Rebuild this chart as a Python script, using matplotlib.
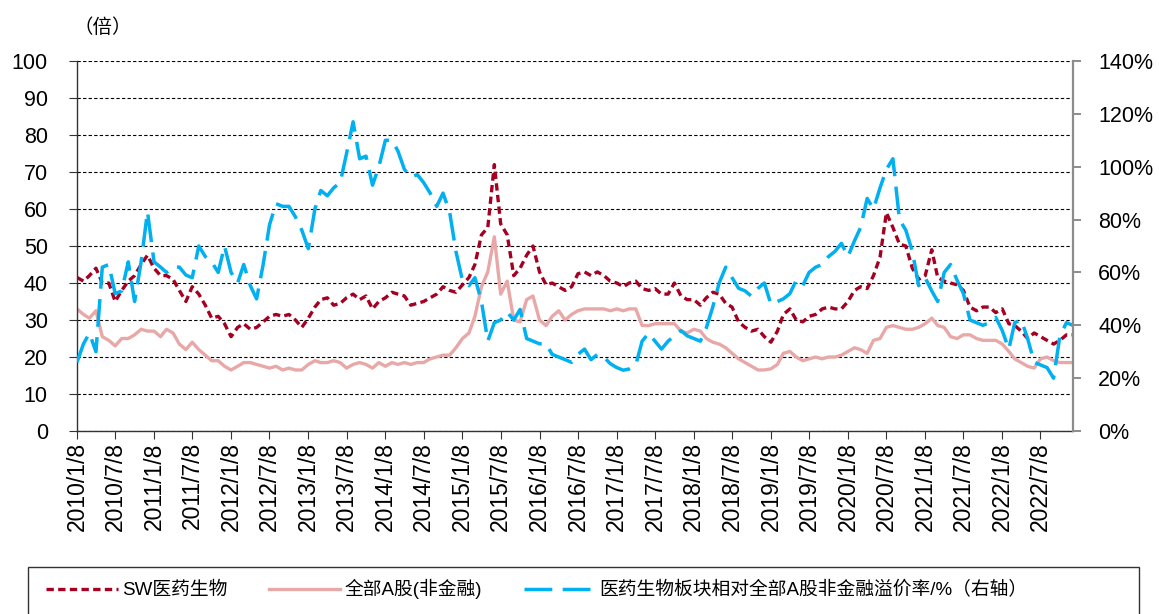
import pandas as pd
import matplotlib.pyplot as plt
import matplotlib.dates as mdates
from matplotlib.patches import Rectangle
from matplotlib.ticker import MultipleLocator, PercentFormatter, FixedLocator

plt.rcParams['font.family'] = ['Liberation Sans', 'Noto Sans CJK SC', 'DejaVu Sans']

# Monthly samples, Jan 2010 - Dec 2022 (12 values per row)
sw_pe = [
    41.5, 40.5, 42, 44, 40, 40, 35, 38, 40.5, 42, 45, 47.5,
    44, 42, 42, 41, 38, 35, 39, 37, 34, 30.5, 31, 29,
    25.5, 28, 29, 27.5, 28, 29.5, 31, 31.5, 31, 31.5, 30, 28,
    30.5, 33.5, 35.5, 36, 34, 34.5, 36, 37, 35.5, 36.5, 33, 35,
    36, 37.5, 37, 36.5, 34, 34.5, 35, 36, 37, 39, 38, 37.5,
    39.5, 41.5, 45, 53, 55, 72, 56, 53, 42, 44, 47.5, 50,
    43, 39.5, 40, 39, 38, 39, 42.5, 43, 42, 43, 42, 40.5,
    40, 39, 40, 40.5, 38.5, 38, 38.5, 37, 37, 40, 36.5, 35.5,
    35.5, 34, 36, 37.5, 37, 34.5, 33.5, 29.5, 28, 27, 27.5, 25.5,
    24, 27, 31.5, 33, 30, 29.5, 31, 31.5, 33, 33.5, 33, 33,
    35, 38, 39, 38.5, 42, 47, 59, 55, 50.5, 50, 44, 41,
    42, 49, 41.5, 40.5, 40, 39.5, 38, 33.5, 32.5, 33.5, 33.5, 32,
    33, 29, 28.5, 27, 25, 26.5, 25.5, 24.5, 23.5, 24.5, 26, 26,
]

a_share_pe = [
    33, 31.5, 30.5, 32.5, 25.5, 24.5, 23, 25, 25, 26, 27.5, 27,
    27, 25.5, 27.5, 26.5, 23.5, 22, 24, 22, 20.5, 19, 19, 17.5,
    16.5, 17.5, 18.5, 18.5, 18, 17.5, 17, 17.5, 16.5, 17, 16.5, 16.5,
    18, 19, 18.5, 18.5, 19, 18.5, 17, 18, 18.5, 18, 17, 18.5,
    17.5, 18.5, 18, 18.5, 18, 18.5, 18.5, 19.5, 20, 20.5, 20.5, 22.5,
    25, 26.5, 31, 39, 43, 52.5, 37, 40.5, 30, 29.5, 35.5, 36.5,
    30, 28.5, 31, 32.5, 30, 31.5, 32.5, 33, 33, 33, 33, 32.5,
    33, 32.5, 33, 33, 28.5, 28.5, 29, 29, 29, 29, 27, 26.5,
    27.5, 27, 25, 24, 23.5, 22.5, 21, 19.5, 18.5, 17.5, 16.5, 16.5,
    16.8, 18, 21, 21.5, 20, 19, 19.5, 20, 19.5, 20, 20, 20.5,
    21.5, 22.5, 22, 21, 24.5, 25, 28, 28.5, 28, 27.5, 27.5, 28,
    29, 30.5, 28.5, 28, 25.5, 25, 26, 26, 25, 24.5, 24.5, 24.5,
    23.5, 21.5, 19.5, 18.5, 17.5, 17, 19.5, 20, 19, 18.5, 18.5, 18.5,
]

premium_pct = [
    26, 33, 37, 30, 62, 63, 52, 53, 64, 49, 64, 83,
    64, 62, 60, 62, 62, 59, 58, 70, 66, 64, 60, 70,
    60, 56, 63, 55, 50, 63, 78, 86, 85, 85, 81, 76,
    69, 84, 91, 89, 92, 94, 105, 117, 103, 104, 93, 100,
    110, 110, 106, 99, 96, 97, 94, 90, 85, 90, 83, 68,
    57, 55, 58, 49, 34, 41, 42, 45, 42, 46, 35, 34,
    33, 33, 29, 28, 27, 26, 29, 31, 27, 29, 28, 25.5,
    24, 23, 23.5, 25, 34, 37, 34, 31, 34, 36, 38, 36,
    35, 34, 39, 47, 56, 62, 58, 54, 53, 51, 54, 56,
    48, 49, 50, 52, 57, 55, 60, 62, 63, 66, 68, 71,
    66, 72, 77, 88, 84, 92, 99, 103, 80, 76, 68, 55,
    58, 53, 49, 60, 63, 57, 52, 42, 41, 40, 41, 43,
    38, 31, 41, 42, 35, 26, 25, 24, 20, 36, 41, 40,
]

tick_labels = [
    '2010/1/8', '2010/7/8', '2011/1/8', '2011/7/8', '2012/1/8', '2012/7/8',
    '2013/1/8', '2013/7/8', '2014/1/8', '2014/7/8', '2015/1/8', '2015/7/8',
    '2016/1/8', '2016/7/8', '2017/1/8', '2017/7/8', '2018/1/8', '2018/7/8',
    '2019/1/8', '2019/7/8', '2020/1/8', '2020/7/8', '2021/1/8', '2021/7/8',
    '2022/1/8', '2022/7/8',
]

labels = ['SW医药生物', '全部A股(非金融)', '医药生物板块相对全部A股非金融溢价率/%（右轴）']

dates = pd.date_range('2010-01-01', periods=len(sw_pe), freq='MS') + pd.Timedelta(days=7)
df = pd.DataFrame({'sw': sw_pe, 'a': a_share_pe, 'prem': premium_pct}, index=dates)

red = '#A50021'
pink = '#E8A8A8'
blue = '#00B0F0'

fig = plt.figure(figsize=(11.59, 6.14), dpi=100)
ax = fig.add_axes([0.0664, 0.298, 0.8594, 0.6027])
ax2 = ax.twinx()

l2, = ax.plot(df.index, df['a'], color=pink, lw=2.4, solid_joinstyle='round')
l1, = ax.plot(df.index, df['sw'], color=red, lw=2.4, dashes=(2.2, 1.3))
l3, = ax2.plot(df.index, df['prem'], color=blue, lw=2.5, dashes=(8, 3))

ax.set_xlim(pd.Timestamp('2010-01-08'), pd.Timestamp('2022-12-09'))
ax.set_ylim(0, 100)
ax2.set_ylim(0, 140)

ax.yaxis.set_major_locator(MultipleLocator(10))
ax2.yaxis.set_major_locator(MultipleLocator(20))
ax2.yaxis.set_major_formatter(PercentFormatter(xmax=100, decimals=0))

tick_dates = pd.to_datetime(tick_labels, format='%Y/%m/%d')
ax.xaxis.set_major_locator(FixedLocator(mdates.date2num(tick_dates)))
ax.set_xticklabels(tick_labels, rotation=90, va='top', ha='center')

ax.yaxis.grid(True, color='black', lw=0.8, linestyle=(0, (3, 2)))
ax.set_axisbelow(True)

for s in ['top', 'right']:
    ax.spines[s].set_visible(False)
for s in ['top', 'left', 'bottom']:
    ax2.spines[s].set_visible(False)
ax.spines['left'].set_color('#333333')
ax.spines['bottom'].set_color('#333333')
ax.spines['left'].set_linewidth(1.0)
ax.spines['bottom'].set_linewidth(1.0)
ax2.spines['right'].set_color('#8C8C8C')
ax2.spines['right'].set_linewidth(1.6)

ax.tick_params(axis='y', direction='out', length=6, color='#333333', pad=15, labelsize=15.5)
ax.tick_params(axis='x', direction='out', length=6, color='#333333', pad=2, labelsize=16.5)
ax2.tick_params(axis='y', direction='out', length=6, width=1.4, color='#8C8C8C',
                pad=12, labelsize=15.5)

fig.text(0.089, 0.955, '（倍）', fontsize=14, ha='center', va='center',
         family=['Noto Sans CJK SC'])

# Legend box runs off the bottom edge of the figure
fig.patches.append(Rectangle((0.0242, -0.05), 0.9586, 0.1265, transform=fig.transFigure,
                             fill=False, edgecolor='#333333', lw=1.0))
fig.legend([l1, l2, l3], labels, loc='center left', bbox_to_anchor=(0.032, 0.0407),
           ncol=3, frameon=False, fontsize=13.5, handlelength=3.8, handletextpad=0.25,
           columnspacing=2.2, borderpad=0)

plt.savefig('out.png', dpi=100)
